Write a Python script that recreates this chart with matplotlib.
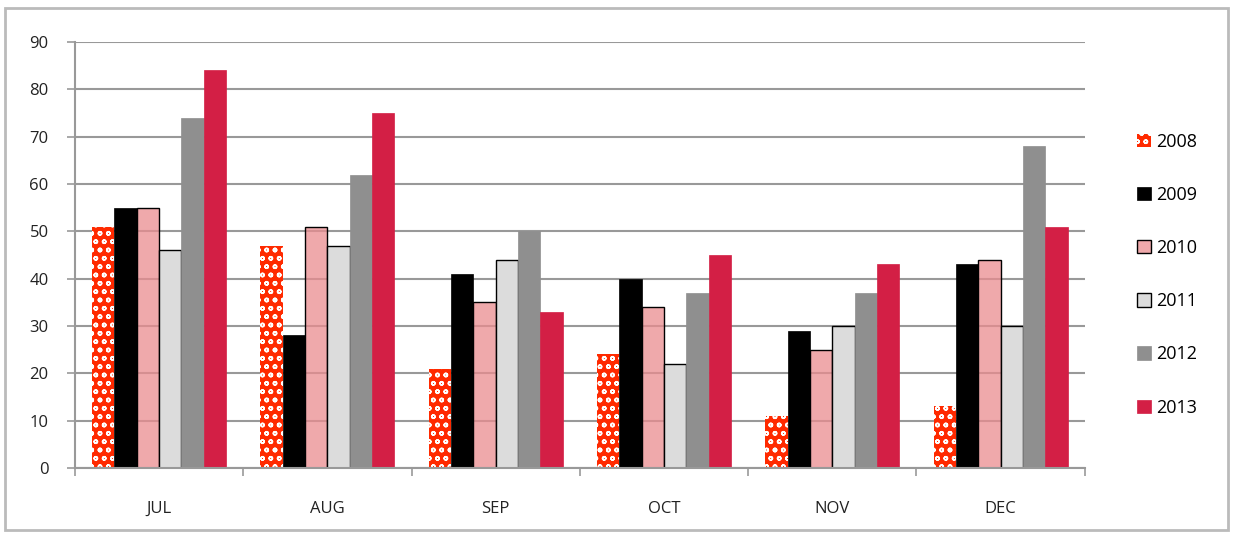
import numpy as np
import matplotlib
matplotlib.use('Agg')
import matplotlib.pyplot as plt
from matplotlib.patches import Rectangle

plt.rcParams['font.family'] = ['Open Sans', 'DejaVu Sans']
plt.rcParams['hatch.linewidth'] = 1.1

months = ['JUL', 'AUG', 'SEP', 'OCT', 'NOV', 'DEC']
years = ['2008', '2009', '2010', '2011', '2012', '2013']

v2008 = [51, 47, 21, 24, 11, 13]
v2009 = [55, 28, 41, 40, 29, 43]
v2010 = [55, 51, 35, 34, 25, 44]
v2011 = [46, 47, 44, 22, 30, 30]
v2012 = [74, 62, 50, 37, 37, 68]
v2013 = [84, 75, 33, 45, 43, 51]

series = [v2008, v2009, v2010, v2011, v2012, v2013]
styles = [
    dict(facecolor='#FF2A00', edgecolor='white', hatch='oo', linewidth=0),
    dict(facecolor='black', edgecolor='black', linewidth=0.5),
    dict(facecolor=(0.918, 0.549, 0.561, 0.75), edgecolor='black', linewidth=1.0),
    dict(facecolor='#DCDCDC', edgecolor='black', linewidth=1.0),
    dict(facecolor='#8F8F8F', edgecolor='#8F8F8F', linewidth=0.5),
    dict(facecolor='#D31F45', edgecolor='#D31F45', linewidth=0.5),
]

fig = plt.figure(figsize=(12.33, 5.36), dpi=100)
ax = fig.add_axes([0.0608, 0.127, 0.819, 0.7946])

x = np.arange(len(months))
w = 0.1327
for i, (vals, st) in enumerate(zip(series, styles)):
    ax.bar(x + (i - 2.5) * w, vals, width=w, label=years[i], zorder=2, **st)

ax.set_xlim(-0.5, 5.5)
ax.set_ylim(0, 90)
ax.set_yticks(np.arange(0, 91, 10))
ax.set_xticks(x)
ax.set_xticklabels(months)
ax.set_xticks(np.arange(-0.5, 6, 1), minor=True)
ax.tick_params(axis='x', which='major', length=0, pad=24, labelsize=12, labelcolor='#222222')
ax.tick_params(axis='x', which='minor', length=6, color='#999999', width=1.2)
ax.tick_params(axis='y', length=6, color='#999999', width=1.2, labelsize=12,
               labelcolor='#222222', pad=13)
ax.grid(axis='y', color='#999999', linewidth=1.5, zorder=0)
ax.set_axisbelow(True)
for s in ['top', 'right']:
    ax.spines[s].set_visible(False)
for s in ['left', 'bottom']:
    ax.spines[s].set_color('#999999')
    ax.spines[s].set_linewidth(1.5)

fig.legend(loc='upper left', bbox_to_anchor=(0.909, 0.783), frameon=False,
           handlelength=0.75, handleheight=0.75, handletextpad=0.3,
           labelspacing=1.95, fontsize=13)

fig.patches.append(Rectangle((0.004, 0.011), 0.992, 0.975, transform=fig.transFigure,
                             fill=False, edgecolor='#BBBBBB', linewidth=2))

fig.savefig('out.png', dpi=100)
